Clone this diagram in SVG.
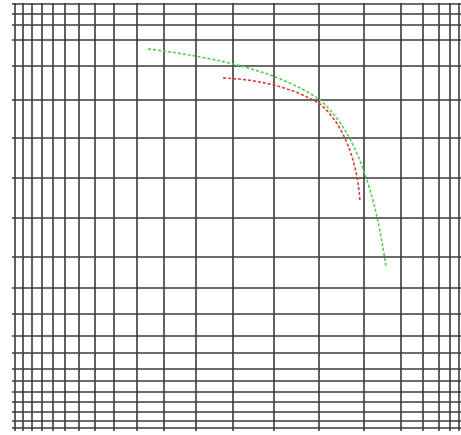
<svg xmlns="http://www.w3.org/2000/svg" width="461" height="435" viewBox="0 0 461 435">
<style>
.g line{stroke:#3a3a3a;stroke-width:1.6}
.c{fill:none;stroke-width:1.6;stroke-dasharray:3 2}
</style>
<rect width="461" height="435" fill="#fff"/>
<g id="grid" class="g">
<g id="vertical">
<line x1="15" y1="3" x2="15" y2="431"/>
<line x1="23" y1="3" x2="23" y2="431"/>
<line x1="32" y1="3" x2="32" y2="431"/>
<line x1="42" y1="3" x2="42" y2="431"/>
<line x1="53" y1="3" x2="53" y2="431"/>
<line x1="65" y1="3" x2="65" y2="431"/>
<line x1="79" y1="3" x2="79" y2="431"/>
<line x1="95" y1="3" x2="95" y2="431"/>
<line x1="114" y1="3" x2="114" y2="431"/>
<line x1="137" y1="3" x2="137" y2="431"/>
<line x1="164" y1="3" x2="164" y2="431"/>
<line x1="196" y1="3" x2="196" y2="431"/>
<line x1="233" y1="3" x2="233" y2="431"/>
<line x1="274" y1="3" x2="274" y2="431"/>
<line x1="319" y1="3" x2="319" y2="431"/>
<line x1="364" y1="3" x2="364" y2="431"/>
<line x1="401" y1="3" x2="401" y2="431"/>
<line x1="423" y1="3" x2="423" y2="431"/>
<line x1="439" y1="3" x2="439" y2="431"/>
<line x1="450" y1="3" x2="450" y2="431"/>
<line x1="459" y1="3" x2="459" y2="431"/>
</g>
<g id="horizontal">
<line x1="12" y1="4" x2="461" y2="4"/>
<line x1="12" y1="14" x2="461" y2="14"/>
<line x1="12" y1="25" x2="461" y2="25"/>
<line x1="12" y1="40" x2="461" y2="40"/>
<line x1="12" y1="66" x2="461" y2="66"/>
<line x1="12" y1="100" x2="461" y2="100"/>
<line x1="12" y1="138" x2="461" y2="138"/>
<line x1="12" y1="178" x2="461" y2="178"/>
<line x1="12" y1="218" x2="461" y2="218"/>
<line x1="12" y1="257" x2="461" y2="257"/>
<line x1="12" y1="288" x2="461" y2="288"/>
<line x1="12" y1="314" x2="461" y2="314"/>
<line x1="12" y1="336" x2="461" y2="336"/>
<line x1="12" y1="353" x2="461" y2="353"/>
<line x1="12" y1="369" x2="461" y2="369"/>
<line x1="12" y1="381" x2="461" y2="381"/>
<line x1="12" y1="392" x2="461" y2="392"/>
<line x1="12" y1="402" x2="461" y2="402"/>
<line x1="12" y1="412" x2="461" y2="412"/>
<line x1="12" y1="421" x2="461" y2="421"/>
<line x1="12" y1="428" x2="461" y2="428"/>
</g>
</g>
<g id="curves">
<path id="green-curve" class="c" stroke="#4fd04f" d="M148,49 C220,58 280,72 320,100 C355,130 375,190 386,267"/>
<path id="red-curve" class="c" stroke="#e03a3a" d="M223,78 C270,80 300,92 320,104 C345,125 358,165 360,202"/>
</g>
</svg>
